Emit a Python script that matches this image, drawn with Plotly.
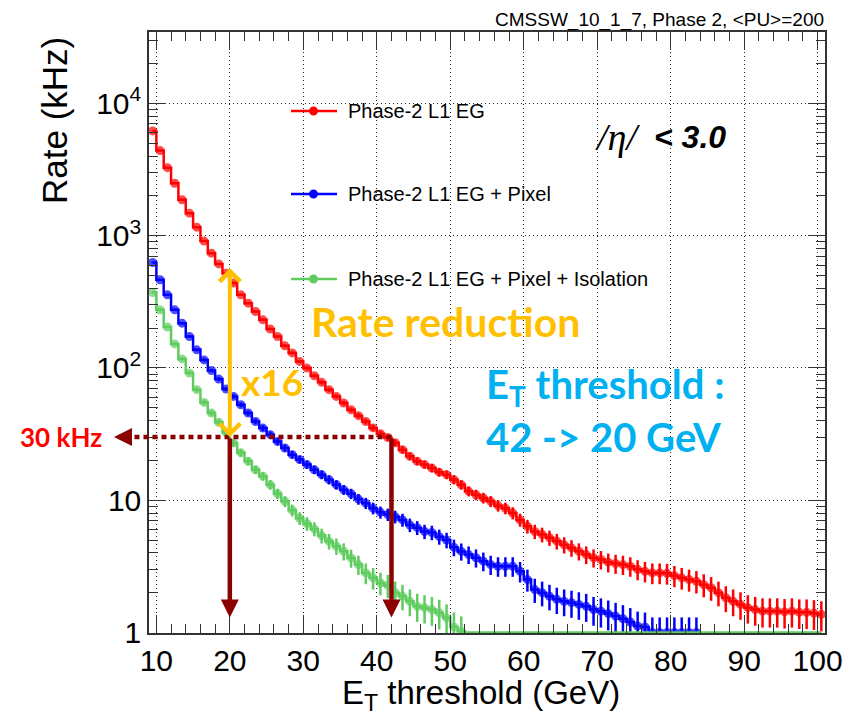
import numpy as np
import plotly.graph_objects as go

# ---------------- data ----------------
ET_BINS = list(np.arange(9.5, 101.0, 1.0))          # bin centres (GeV), 1 GeV bins 9..101

RATE_EG = [6200, 4400, 3270, 2490, 1870, 1480, 1160, 910, 738, 612,
           521, 438, 357, 309, 267, 231, 197, 173, 147, 130,
           112, 99.8, 87.3, 77.8, 68.5, 60.9, 54.3, 48.3, 43.6, 39.4,
           35.2, 31.8, 29.8, 27.2, 24.1, 21.5, 19.7, 18.6, 17.5, 16.3,
           15.6, 14.3, 13.1, 11.7, 11.0, 10.4, 9.8, 9.1, 8.7, 8.0,
           7.1, 6.35, 5.8, 5.5, 5.2, 4.9, 4.6, 4.36, 4.11, 3.88,
           3.67, 3.56, 3.40, 3.32, 3.26, 3.17, 3.0, 2.9, 2.82, 2.82,
           2.8, 2.69, 2.59, 2.51, 2.44, 2.30, 2.18, 2.0, 1.83, 1.72,
           1.63, 1.54, 1.49, 1.45, 1.45, 1.45, 1.43, 1.45, 1.42, 1.42,
           1.40, 1.37]

RATE_EG_PIX = [627, 464, 357, 275, 218, 173, 137, 115, 95.7, 82.4,
               69.3, 60.9, 52.7, 45.6, 39.4, 35.1, 31.3, 27.8, 24.8, 22.1,
               20.3, 18.6, 17.0, 15.6, 14.3, 13.1, 12.0, 11.2, 10.2, 9.5,
               8.7, 8.1, 7.8, 7.5, 7.1, 6.5, 6.2, 5.8, 5.7, 5.3,
               5.0, 4.4, 4.1, 3.88, 3.67, 3.46, 3.26, 3.17, 3.17, 3.17,
               2.90, 2.51, 2.11, 2.0, 1.88, 1.78, 1.72, 1.68, 1.63, 1.58,
               1.49, 1.45, 1.39, 1.33, 1.27, 1.2, 1.12, 1.1, 1.0, 1.0,
               1.0, 1.0, 1.0, 1.0, 1.0]

RATE_EG_PIX_ISO = [372, 275, 204, 152, 117, 91.5, 68.5, 54.9, 45.6, 38.8,
                   32.6, 27.1, 22.8, 19.7, 17.0, 15.2, 13.1, 11.2, 9.8, 8.4,
                   7.3, 6.65, 6.07, 5.40, 4.90, 4.49, 4.11, 3.66, 3.26, 2.82,
                   2.59, 2.37, 2.27, 2.0, 1.88, 1.72, 1.58, 1.54, 1.49, 1.41,
                   1.29, 1.1, 1.02] + [0] * 49

SERIES_NAMES = ["Phase-2 L1 EG", "Phase-2 L1 EG + Pixel",
                "Phase-2 L1 EG + Pixel + Isolation"]
SERIES_COLORS = ["#ff0000", "#0000ff", "#5fcc5f"]

X_TICKS = [10, 20, 30, 40, 50, 60, 70, 80, 90, 100]
Y_TICKS = [1, 10, 100, 1000, 10000]
Y_TICKTEXT = ["1", "10", "10<sup>2</sup>", "10<sup>3</sup>", "10<sup>4</sup>"]

RATE_PER_EVENT = 0.09      # kHz per selected event (Poisson error bars)
RATE_FLOOR = 1.0           # empty bins drawn on the axis floor
TARGET_RATE = 30           # kHz
THR_OLD, THR_NEW = 42, 20  # GeV
REDUCTION_TOP = 585        # kHz, rate of EG at new threshold (arrow top)
ARROW_BOTTOM = 1.3         # kHz

# ---------------- geometry (page pixels) ----------------
W, H = 862, 717
OFF = 8                     # default body margin of the html page
ML, MR, MT, MB = 149, 37, 32, 84
PW, PH = W - ML - MR, H - MT - MB
XMIN, XMAX = 9.0, 101.0
YMIN, YMAX = -0.004, 4.54


def px_x(px):
    return (px - ML) / PW


def px_y(py):
    return (H - MB - py) / PH


def dx(x):
    return (x - XMIN) / (XMAX - XMIN)


def dy(v):
    return (np.log10(v) - YMIN) / (YMAX - YMIN)


FONT = "Liberation Sans, Arial, sans-serif"
CAL = "Lato, Carlito, sans-serif"

fig = go.Figure()
for name, rates, color in zip(SERIES_NAMES, [RATE_EG, RATE_EG_PIX, RATE_EG_PIX_ISO], SERIES_COLORS):
    r = np.array(rates, dtype=float)
    x = ET_BINS[:len(r)]
    y_disp = np.where(r > 0, r, RATE_FLOOR)
    err = np.sqrt(r * RATE_PER_EVENT)
    sizes = np.where(r > 0, 9, 0)
    fig.add_trace(go.Scatter(
        x=x, y=y_disp, mode="lines+markers", name=name, showlegend=False,
        line=dict(color=color, width=2.5, shape="hvh"),
        marker=dict(color=color, size=sizes, line=dict(width=0)),
        error_y=dict(type="data", array=err, color=color, thickness=2.5, width=0),
    ))

axis_common = dict(
    showline=True, linecolor="#333", linewidth=1.5, mirror="ticks",
    ticks="inside", tickcolor="#333", tickwidth=1.2,
    showgrid=True, gridcolor="#222", gridwidth=1, griddash="1px,3px",
    zeroline=False, tickfont=dict(family=FONT, size=30, color="black"),
)

fig.update_xaxes(range=[XMIN, XMAX], tickvals=X_TICKS, ticklen=18,
                 minor=dict(tickvals=[v for v in range(10, 101, 2) if v % 10],
                            ticks="inside", ticklen=9, tickcolor="#333", showgrid=False),
                 **axis_common)
minor_y = [m * 10 ** e for e in range(0, 5) for m in range(2, 10) if m * 10 ** e < 10 ** YMAX]
fig.update_yaxes(type="log", range=[YMIN, YMAX], tickvals=Y_TICKS, ticktext=Y_TICKTEXT,
                 ticklen=17,
                 minor=dict(tickvals=minor_y, ticks="inside", ticklen=9,
                            tickcolor="#333", showgrid=False),
                 **axis_common)

ann = []
shapes = []

# titles
ann.append(dict(text="CMSSW_10_1_7, Phase 2, &lt;PU&gt;=200", xref="paper", yref="paper",
                x=px_x(826), y=px_y(20), xanchor="right", yanchor="middle",
                showarrow=False, font=dict(family=FONT, size=19, color="black")))
ann.append(dict(text="Rate (kHz)", xref="paper", yref="paper", textangle=-90,
                x=px_x(55), y=px_y(121), xanchor="center", yanchor="middle",
                showarrow=False, font=dict(family=FONT, size=35, color="black")))
ann.append(dict(text="E<sub>T</sub> threshold (GeV)", xref="paper", yref="paper",
                x=px_x(481), y=px_y(695), xanchor="center", yanchor="middle",
                showarrow=False, font=dict(family=FONT, size=33, color="black")))

# legend (manual)
LEG_Y = [111, 194, 279]
for name, color, ly in zip(SERIES_NAMES, SERIES_COLORS, LEG_Y):
    shapes.append(dict(type="line", xref="paper", yref="paper",
                       x0=px_x(291), x1=px_x(337), y0=px_y(ly), y1=px_y(ly),
                       line=dict(color=color, width=2.5)))
    shapes.append(dict(type="circle", xref="paper", yref="paper",
                       x0=px_x(309), x1=px_x(318), y0=px_y(ly + 4.5), y1=px_y(ly - 4.5),
                       fillcolor=color, line=dict(color=color, width=0)))
    ann.append(dict(text=name, xref="paper", yref="paper", x=px_x(346), y=px_y(ly),
                    xanchor="left", yanchor="middle", showarrow=False,
                    font=dict(family=FONT, size=20, color="black")))

# eta label
ann.append(dict(text="<i>/η/</i>", xref="paper", yref="paper", x=px_x(617), y=px_y(137),
                xanchor="center", yanchor="middle", showarrow=False,
                font=dict(family="Liberation Serif, serif", size=38, color="black")))
ann.append(dict(text="<b><i>&lt; 3.0</i></b>", xref="paper", yref="paper", x=px_x(690), y=px_y(137),
                xanchor="center", yanchor="middle", showarrow=False,
                font=dict(family=FONT, size=32, color="black")))

ORANGE = "#ffc000"
CYAN = "#00b0f0"
DARKRED = "#8b0000"

ann.append(dict(text="<b>Rate reduction</b>", xref="paper", yref="paper", x=px_x(309), y=px_y(321),
                xanchor="left", yanchor="middle", showarrow=False,
                font=dict(family=CAL, size=41, color=ORANGE)))
ann.append(dict(text="<b>x16</b>", xref="paper", yref="paper", x=px_x(239), y=px_y(382),
                xanchor="left", yanchor="middle", showarrow=False,
                font=dict(family=CAL, size=37, color=ORANGE)))
ann.append(dict(text="<b>E<sub>T</sub> threshold :</b>", xref="paper", yref="paper",
                x=px_x(484), y=px_y(387), xanchor="left", yanchor="middle", showarrow=False,
                font=dict(family=CAL, size=40, color=CYAN)))
ann.append(dict(text="<b>42 -&gt; 20 GeV</b>", xref="paper", yref="paper",
                x=px_x(484), y=px_y(437), xanchor="left", yanchor="middle", showarrow=False,
                font=dict(family=CAL, size=40, color=CYAN)))
ann.append(dict(text="<b>30 kHz</b>", xref="paper", yref="paper",
                x=px_x(61), y=px_y(437), xanchor="center", yanchor="middle", showarrow=False,
                font=dict(family=CAL, size=26, color="#ff0000")))


def arrow(xt, yt, xa, ya, color, width, head, size, both=False):
    d = dict(xref="paper", yref="paper", x=xt, y=yt, axref="pixel", ayref="pixel",
             ax=(xa - xt) * PW, ay=-(ya - yt) * PH, text="", showarrow=True,
             arrowcolor=color, arrowwidth=width, arrowhead=head, arrowsize=size,
             arrowside="end+start" if both else "end")
    if both:
        d.update(startarrowhead=head, startarrowsize=size)
    return d


# horizontal dotted line at target rate
shapes.append(dict(type="line", xref="paper", yref="paper",
                   x0=dx(THR_OLD), x1=px_x(128), y0=dy(TARGET_RATE), y1=dy(TARGET_RATE),
                   line=dict(color=DARKRED, width=4.5, dash="5px,4px")))
ann.append(arrow(px_x(114), dy(TARGET_RATE), px_x(132), dy(TARGET_RATE), DARKRED, 4.5, 2, 0.8))

# vertical threshold arrows
for thr in (THR_NEW, THR_OLD):
    ann.append(arrow(dx(thr), dy(ARROW_BOTTOM), dx(thr), dy(TARGET_RATE), DARKRED, 4.5, 2, 0.8))

# orange reduction arrow
ann.append(arrow(dx(THR_NEW), dy(TARGET_RATE), dx(THR_NEW), dy(REDUCTION_TOP), ORANGE, 4, 4, 1.0, both=True))

# figure is drawn inside the page's default 8 px body margin
fig.update_layout(
    width=W - OFF, height=H - OFF,
    margin=dict(l=ML - OFF, r=MR, t=MT - OFF, b=MB),
    paper_bgcolor="white", plot_bgcolor="white",
    showlegend=False, annotations=ann, shapes=shapes,
    font=dict(family=FONT, color="black"),
)

fig.write_html("out.html")
